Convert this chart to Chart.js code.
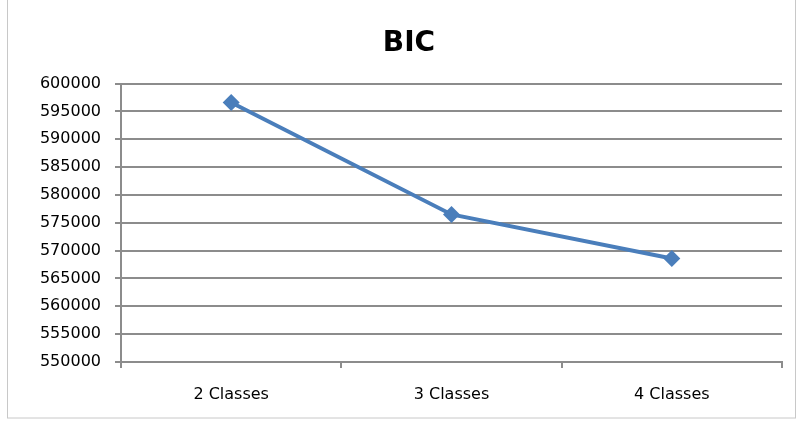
<!DOCTYPE html>
<html>
<head>
<meta charset="utf-8">
<script src="https://cdn.jsdelivr.net/npm/chart.js@4/dist/chart.umd.min.js"></script>
<style>
  html, body { margin: 0; padding: 0; background: #fff; }
  #wrap { width: 800px; height: 422px; }
</style>
</head>
<body>
<div id="wrap"><canvas id="graficoBIC" width="800" height="422"></canvas></div>
<script>
const categorias = ['2 Classes', '3 Classes', '4 Classes'];
const valoresBIC = [596600, 576500, 568600];
const eixoY = { min: 550000, max: 600000, passo: 5000 };

const corLinha = '#4a7ebb';
const corGrade = '#8c8c8c';

// moldura cinza clara em volta do gráfico
const moldura = {
  id: 'moldura',
  beforeDraw(chart) {
    const ctx = chart.ctx;
    ctx.save();
    ctx.fillStyle = '#fff';
    ctx.fillRect(0, 0, chart.width, chart.height);
    ctx.strokeStyle = '#c8c8c8';
    ctx.lineWidth = 1;
    ctx.strokeRect(7.5, -1, chart.width - 12, chart.height - 3);
    ctx.restore();
  }
};

const ctx = document.getElementById('graficoBIC').getContext('2d');

new Chart(ctx, {
  type: 'line',
  data: {
    labels: categorias,
    datasets: [{
      label: 'BIC',
      data: valoresBIC,
      borderColor: corLinha,
      backgroundColor: corLinha,
      borderWidth: 4,
      pointStyle: 'rectRot',
      pointRadius: 8.5,
      pointBorderWidth: 0,
      tension: 0
    }]
  },
  options: {
    responsive: false,
    animation: false,
    layout: {
      padding: { top: 17, right: 18, bottom: 0, left: 36 }
    },
    plugins: {
      legend: { display: false },
      tooltip: { enabled: false },
      title: {
        display: true,
        text: 'BIC',
        color: '#000',
        font: { family: 'DejaVu Sans', size: 28, weight: 'bold' },
        padding: { top: 10, bottom: 23 }
      }
    },
    scales: {
      x: {
        offset: true,
        afterFit: s => { s.height = 60; },
        border: { color: corGrade, width: 2 },
        grid: {
          offset: true,
          drawOnChartArea: false,
          color: corGrade,
          lineWidth: 2,
          tickLength: 6
        },
        ticks: {
          color: '#000',
          padding: 17,
          font: { family: 'DejaVu Sans', size: 16 }
        }
      },
      y: {
        min: eixoY.min,
        max: eixoY.max,
        afterFit: s => { s.width = 85; },
        border: { color: corGrade, width: 2 },
        grid: {
          color: corGrade,
          lineWidth: 2,
          tickLength: 6
        },
        ticks: {
          stepSize: eixoY.passo,
          color: '#000',
          padding: 14,
          font: { family: 'DejaVu Sans', size: 16 },
          callback: v => String(v)
        }
      }
    }
  },
  plugins: [moldura]
});
</script>
</body>
</html>
